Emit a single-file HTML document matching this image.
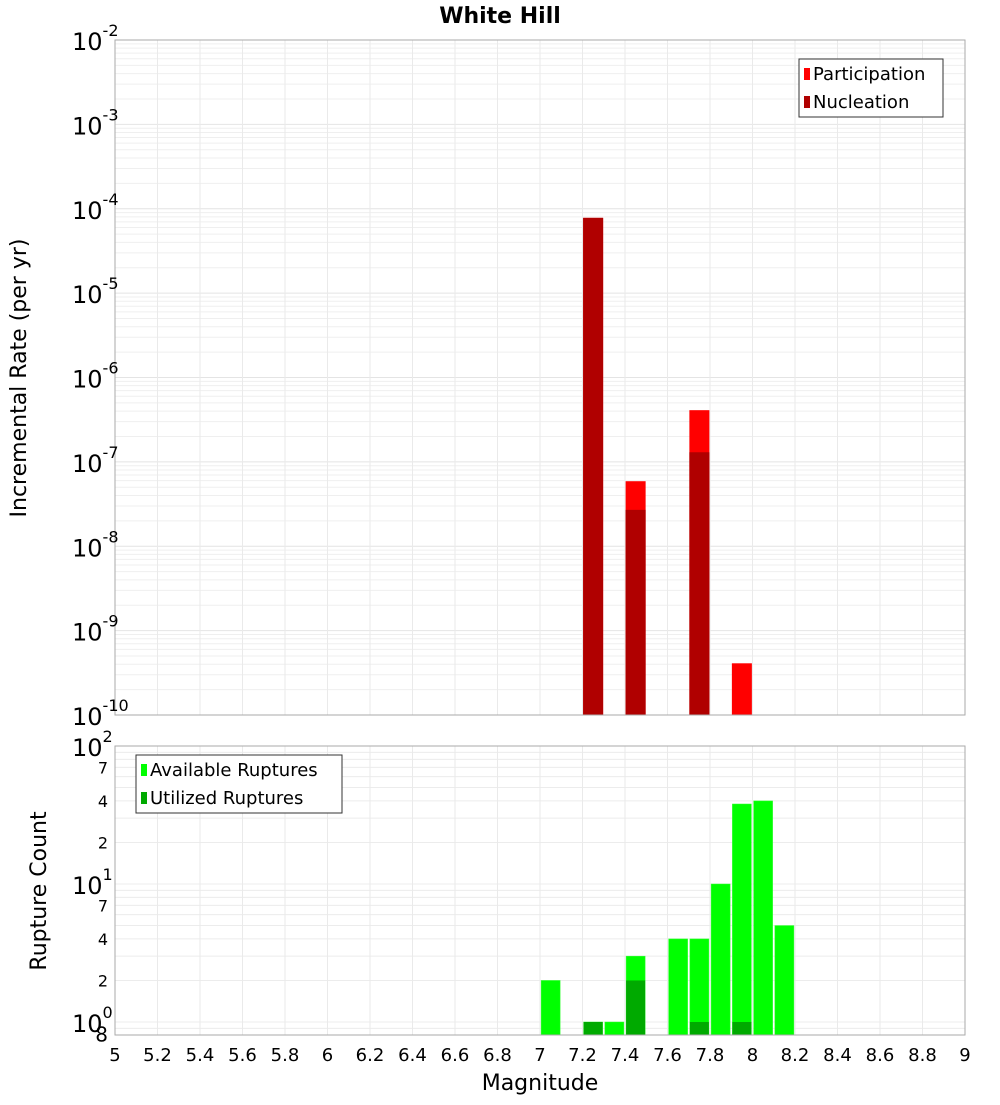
<!DOCTYPE html>
<html><head><meta charset="utf-8"><style>
body{margin:0;background:#fff;}
svg{font-family:"DejaVu Sans","Liberation Sans",sans-serif;}
</style></head><body>
<svg id="c" width="1000" height="1100" xmlns="http://www.w3.org/2000/svg"></svg>
<script>
const xTicks=[5,5.2,5.4,5.6,5.8,6,6.2,6.4,6.6,6.8,7,7.2,7.4,7.6,7.8,8,8.2,8.4,8.6,8.8,9];
const rateMags=[7.25,7.45,7.75,7.95];
const participation=[7.8e-5,5.9e-8,4.1e-7,4.1e-10];
const nucleation=[7.8e-5,2.7e-8,1.3e-7,0];
const countMags=[7.05,7.25,7.35,7.45,7.65,7.75,7.85,7.95,8.05,8.15];
const available=[2,1,1,3,4,4,10,38,40,5];
const utilized=[0,1,0,2,0,1,0,1,0,0];
const topExps=[-2,-3,-4,-5,-6,-7,-8,-9,-10];
const botExps=[2,1,0];
const botMinor=[2,4,7];

const svg=document.getElementById('c');const NS='http://www.w3.org/2000/svg';
function el(t,a,p){const e=document.createElementNS(NS,t);for(const k in a)e.setAttribute(k,a[k]);(p||svg).appendChild(e);return e;}
const X0=115,X1=965;
const xs=m=>X0+(m-5)/4*(X1-X0);
const T0=40,T1=715;const yTop=v=>T1-(Math.log10(v)+10)/8*(T1-T0);
const B0=746,B1=1035;const pxDec=138;const yBot=v=>1022-Math.log10(v)*pxDec;

// title
let t=el('text',{x:500,y:23,'text-anchor':'middle','font-size':22,'font-weight':'bold'});t.textContent='White Hill';


// top plot grid
let g=el('g',{});
for(let e=-10;e<-2;e++)for(let k=1;k<10;k++){const y=yTop(k*Math.pow(10,e));el('line',{x1:X0,x2:X1,y1:y,y2:y,stroke:k==1?'#e4e4e4':'#efefef','stroke-width':1},g);}
xTicks.forEach(m=>{el('line',{x1:xs(m),x2:xs(m),y1:T0,y2:T1,stroke:'#eaeaea'},g);});
// bottom grid
let g2=el('g',{});
for(let e=-1;e<2;e++)for(let k=1;k<10;k++){const v=k*Math.pow(10,e);const y=yBot(v);if(y<B0||y>B1)continue;el('line',{x1:X0,x2:X1,y1:y,y2:y,stroke:'#ececec'},g2);}
xTicks.forEach(m=>{el('line',{x1:xs(m),x2:xs(m),y1:B0,y2:B1,stroke:'#eaeaea'},g2);});

// top bars
const bw=20;
rateMags.forEach((m,i)=>{
 if(participation[i]>0){const y=yTop(participation[i]);const r=el('rect',{x:xs(m)-bw/2,y:y,width:bw,height:T1-y,fill:'#ff0000'});
 }
 if(nucleation[i]>0){const y=yTop(nucleation[i]);const r=el('rect',{x:xs(m)-bw/2,y:y,width:bw,height:T1-y,fill:'#b00000'});
 }
});
// bottom bars
const bw2=19;
countMags.forEach((m,i)=>{
 if(available[i]>0){const y=yBot(available[i]);const r=el('rect',{x:xs(m)-bw2/2,y:y,width:bw2,height:B1-y,fill:'#00ff00',stroke:'#33ff33','stroke-width':0.5});
 }
 if(utilized[i]>0){const y=yBot(utilized[i]);const r=el('rect',{x:xs(m)-bw2/2,y:y,width:bw2,height:B1-y,fill:'#00aa00'});
 }
});

// frames
let f1=el('rect',{x:X0,y:T0,width:X1-X0,height:T1-T0,fill:'none',stroke:'#aaa'});
let f2=el('rect',{x:X0,y:B0,width:X1-X0,height:B1-B0,fill:'none',stroke:'#aaa'});

// top y labels
topExps.forEach(e=>{const y=yTop(Math.pow(10,e));
 const tx=el('text',{x:72,y:y+10,'font-size':24});
 tx.textContent='10';const s=el('tspan',{dy:-14,'font-size':16},tx);s.textContent=String(e);});
botExps.forEach(e=>{const y=yBot(Math.pow(10,e));
 const tx=el('text',{x:72,y:y+10,'font-size':24});
 tx.textContent='10';const s=el('tspan',{dy:-14,'font-size':16},tx);s.textContent=String(e);});
[0.8].concat(botMinor,botMinor.map(v=>v*10)).forEach(v=>{const y=yBot(v);
 const tx=el('text',{x:108,y:y+6,'text-anchor':'end','font-size':v==0.8?20:16});
 tx.textContent=v==0.8?'8':String(v%10==0?v/10:v);});
// x labels
xTicks.forEach(m=>{const tx=el('text',{x:xs(m),y:1061,'text-anchor':'middle','font-size':18});
 tx.textContent=String(m);});
t=el('text',{x:540,y:1090,'text-anchor':'middle','font-size':22});t.textContent='Magnitude';

t=el('text',{x:0,y:0,'text-anchor':'middle','font-size':22,transform:'translate(26,378) rotate(-90)'});t.textContent='Incremental Rate (per yr)';

t=el('text',{x:0,y:0,'text-anchor':'middle','font-size':22,transform:'translate(46,891) rotate(-90)'});t.textContent='Rupture Count';


// legends
function legend(x,y,w,items,name){const lg=el('g',{});
 el('rect',{x:x,y:y,width:w,height:58,fill:'#fff',stroke:'#333'},lg);
 items.forEach((it,i)=>{el('rect',{x:x+5,y:y+9+i*28,width:6,height:12,fill:it[1]},lg);
  const tx=el('text',{x:x+14,y:y+21+i*28,'font-size':18},lg);tx.textContent=it[0];});}
legend(799,59,144,[['Participation','#ff0000'],['Nucleation','#b00000']],'top-legend');
legend(136,755,206,[['Available Ruptures','#00ff00'],['Utilized Ruptures','#00aa00']],'bottom-legend');
</script>
</body></html>
